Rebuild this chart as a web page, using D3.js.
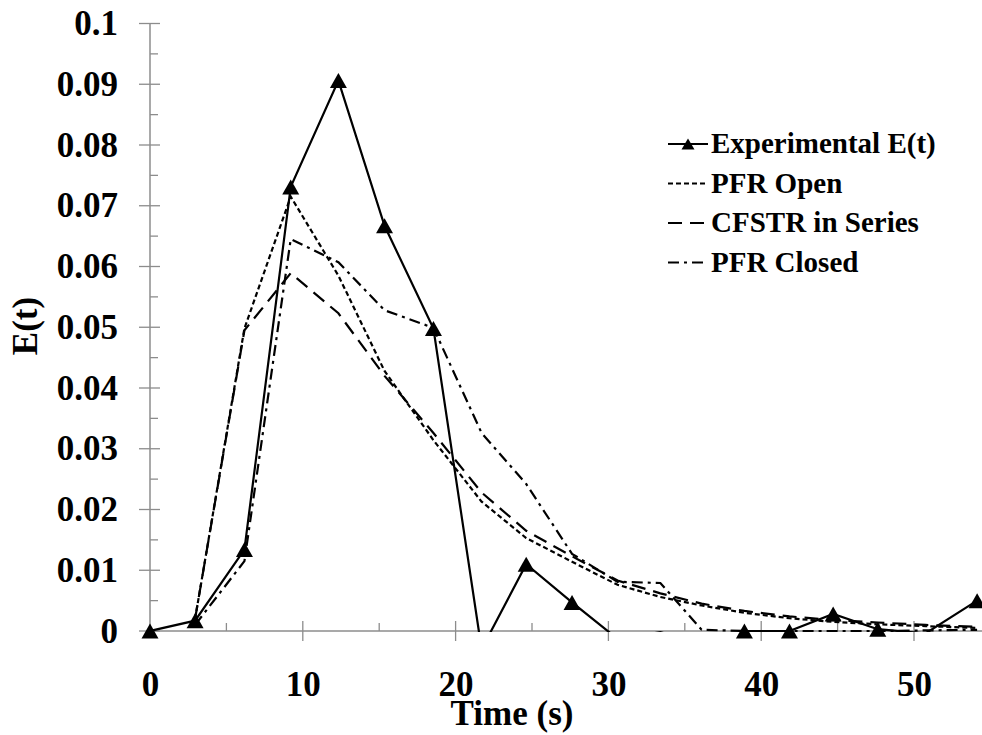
<!DOCTYPE html>
<html>
<head>
<meta charset="utf-8">
<script src="https://cdn.jsdelivr.net/npm/d3@7"></script>
<style>
  html, body { margin: 0; padding: 0; background: #fff; }
  svg { display: block; }
</style>
</head>
<body>
<script>
// ---- data ----
const times = [0, 2.95, 6.18, 9.21, 12.33, 15.35, 18.55, 21.7, 24.62, 27.62, 30.6, 33.4, 36.1, 38.9, 41.85, 44.71, 47.63, 50.75, 54.13];
const experimental = [0, 0.0017, 0.0134, 0.0731, 0.0906, 0.0667, 0.0498, -0.003, 0.011, 0.0047, -0.0013, -0.0002, -0.002, 0, 0, 0.0028, 0.0003, -0.0004, 0.005];
const pfrOpen =   [null, 0.002, 0.0498, 0.0715, 0.0585, 0.0428, 0.0314, 0.0213, 0.0153, 0.0114, 0.0076, 0.0056, 0.0042, 0.003, 0.0021, 0.0015, 0.0011, 0.0008, 0.0005];
const cfstr =     [null, 0.002, 0.0495, 0.0589, 0.0523, 0.042, 0.0326, 0.0228, 0.0165, 0.0123, 0.0083, 0.0062, 0.0045, 0.0033, 0.0024, 0.0018, 0.0014, 0.001, 0.0007];
const pfrClosed = [null, 0.001, 0.0115, 0.0645, 0.0607, 0.0528, 0.0499, 0.0326, 0.0242, 0.0127, 0.0081, 0.0079, 0.0002, 0, 0, 0, 0, 0.0001, 0.0002];
const seriesNames = ["Experimental E(t)", "PFR Open", "CFSTR in Series", "PFR Closed"];
const yTicks = [0, 0.01, 0.02, 0.03, 0.04, 0.05, 0.06, 0.07, 0.08, 0.09, 0.1];
const yTickLabels = ["0", "0.01", "0.02", "0.03", "0.04", "0.05", "0.06", "0.07", "0.08", "0.09", "0.1"];
const xTicks = [0, 10, 20, 30, 40, 50];
const xTickLabels = ["0", "10", "20", "30", "40", "50"];
const xTitle = "Time (s)";
const yTitle = "E(t)";

// ---- layout ----
const W = 982, H = 735;
const pLeft = 150, pRight = 982, pTop = 23.5, pBottom = 631;
const FONT = "'Liberation Serif', 'Times New Roman', serif";
const AXIS = "#8c8c8c";

const x = d3.scaleLinear().domain([0, 54.45]).range([pLeft, pRight]);
const y = d3.scaleLinear().domain([0, 0.1]).range([pBottom, pTop]);

const svg = d3.select("body").append("svg").attr("width", W).attr("height", H);

svg.append("defs").append("clipPath").attr("id", "plotclip")
  .append("rect").attr("x", pLeft).attr("y", pTop - 5).attr("width", pRight - pLeft + 5).attr("height", pBottom - pTop + 6);

// ---- axes ----
const yAxis = d3.axisLeft(y).tickValues(yTicks).tickFormat((d, i) => yTickLabels[i]).tickSize(0).tickPadding(32);
const gy = svg.append("g").attr("transform", `translate(${pLeft},0)`).call(yAxis);
gy.select(".domain").remove();
gy.selectAll("text").attr("font-family", FONT).attr("font-weight", "bold").attr("font-size", 35).attr("fill", "#000");
const yMinor = d3.range(0.005, 0.1, 0.01);
svg.append("g").selectAll("line").data(yTicks).join("line")
  .attr("x1", pLeft - 11).attr("x2", pLeft + 10).attr("y1", d => y(d)).attr("y2", d => y(d))
  .attr("stroke", AXIS).attr("stroke-width", 1.3);
svg.append("g").selectAll("line").data(yMinor).join("line")
  .attr("x1", pLeft).attr("x2", pLeft + 8).attr("y1", d => y(d)).attr("y2", d => y(d))
  .attr("stroke", AXIS).attr("stroke-width", 1.3);
svg.append("line").attr("x1", pLeft).attr("x2", pLeft).attr("y1", pTop).attr("y2", pBottom)
  .attr("stroke", AXIS).attr("stroke-width", 1.5);

const xAxis = d3.axisBottom(x).tickValues(xTicks).tickFormat((d, i) => xTickLabels[i]).tickSize(0).tickPadding(40);
const gx = svg.append("g").attr("transform", `translate(0,${pBottom})`).call(xAxis);
gx.select(".domain").remove();
gx.selectAll("text").attr("font-family", FONT).attr("font-weight", "bold").attr("font-size", 35).attr("fill", "#000");
const xMinor = d3.range(5, 55, 10);
svg.append("g").selectAll("line").data(xTicks.filter(d => d > 0)).join("line")
  .attr("x1", d => x(d)).attr("x2", d => x(d)).attr("y1", pBottom - 10).attr("y2", pBottom + 10)
  .attr("stroke", AXIS).attr("stroke-width", 1.3);
svg.append("g").selectAll("line").data(xMinor).join("line")
  .attr("x1", d => x(d)).attr("x2", d => x(d)).attr("y1", pBottom - 8).attr("y2", pBottom)
  .attr("stroke", AXIS).attr("stroke-width", 1.3);
svg.append("line").attr("x1", pLeft).attr("x2", pRight).attr("y1", pBottom).attr("y2", pBottom)
  .attr("stroke", AXIS).attr("stroke-width", 1.5);

svg.append("text").attr("x", 512).attr("y", 725).attr("text-anchor", "middle")
  .attr("font-family", FONT).attr("font-weight", "bold").attr("font-size", 35).text(xTitle);
svg.append("text").attr("transform", "translate(37,326) rotate(-90)").attr("text-anchor", "middle")
  .attr("font-family", FONT).attr("font-weight", "bold").attr("font-size", 35).text(yTitle);

// ---- series ----
const styles = [
  { data: experimental, dash: null },
  { data: pfrOpen, dash: "5,3" },
  { data: cfstr, dash: "14,8" },
  { data: pfrClosed, dash: "11,5,3,5" }
];
const plot = svg.append("g").attr("clip-path", "url(#plotclip)");
styles.slice().reverse().forEach(s => {
  const pts = times.map((t, i) => [t, s.data[i]]);
  const line = d3.line().defined(d => d[1] !== null).x(d => x(d[0])).y(d => y(d[1]));
  plot.append("path").datum(pts).attr("d", line)
    .attr("fill", "none").attr("stroke", "#000").attr("stroke-width", 2.2)
    .attr("stroke-dasharray", s.dash).attr("stroke-linejoin", "miter");
});

const tri = (cx, cy, w, h) => `M${cx},${cy - h / 2}L${cx + w / 2},${cy + h / 2}L${cx - w / 2},${cy + h / 2}Z`;
svg.append("g").selectAll("path")
  .data(times.map((t, i) => [t, experimental[i]]).filter(d => d[1] >= 0))
  .join("path")
  .attr("d", d => tri(x(d[0]), y(d[1]), 17, 15))
  .attr("fill", "#000");

// ---- legend ----
const lg = svg.append("g");
seriesNames.forEach((name, i) => {
  const base = 153 + i * 39.5;
  const ly = base - 9;
  lg.append("line").attr("x1", 668).attr("x2", 708).attr("y1", ly).attr("y2", ly)
    .attr("stroke", "#000").attr("stroke-width", 2).attr("stroke-dasharray", styles[i].dash);
  if (i === 0) lg.append("path").attr("d", tri(688, ly, 13, 11)).attr("fill", "#000");
  lg.append("text").attr("x", 711).attr("y", base)
    .attr("font-family", FONT).attr("font-weight", "bold").attr("font-size", 29).text(name);
});
</script>
</body>
</html>
